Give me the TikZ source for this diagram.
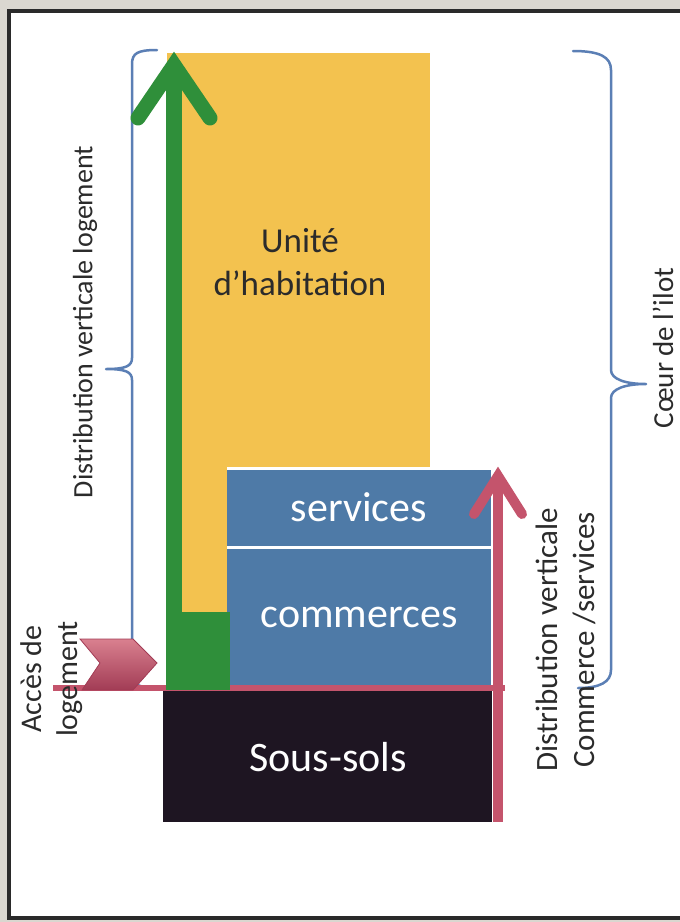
\documentclass[tikz,border=0pt]{standalone}
\usepackage{fontspec}
\setmainfont{Carlito}
\definecolor{yellowc}{HTML}{F3C24F}
\definecolor{greenc}{HTML}{2F8F3A}
\definecolor{bluec}{HTML}{4E7AA7}
\definecolor{blackc}{HTML}{1E1522}
\definecolor{pinkc}{HTML}{C4546C}
\definecolor{pinklight}{HTML}{D9808F}
\definecolor{pinkdark}{HTML}{A23C55}
\definecolor{bracec}{HTML}{5B7FB5}
\definecolor{framec}{HTML}{2A2A2A}
\definecolor{bgc}{HTML}{DAD7D0}
\definecolor{textc}{HTML}{2B2B2B}
\begin{document}
\begin{tikzpicture}[x=1pt,y=-1pt,
  bigwhite/.style={text=white, font=\fontsize{42}{50}\selectfont, inner sep=0pt},
  sidelabel/.style={text=textc, font=\fontsize{29}{36}\selectfont, rotate=90, align=center, inner sep=0pt},
  bracestyle/.style={draw=bracec, line width=2.5pt, line cap=round, line join=round},
  headstyle/.style={line cap=round, line join=miter}]
\useasboundingbox (0,0) rectangle (680,922);
\clip (0,0) rectangle (680,922);
\fill[bgc] (0,0) rectangle (680,922);
\fill[white] (9,11) rectangle (690,918);
\draw[framec, line width=4pt] (700,11) -- (9,11) -- (9,918) -- (700,918);

% blocks
\fill[yellowc] (167,53) rectangle (430,612);
\fill[bluec] (227,467) rectangle (491,688);
\draw[white, line width=3pt] (227,468) -- (491,468);
\draw[white, line width=3pt] (227,547) -- (491,547);
\fill[blackc] (163,690) rectangle (492,822);

% braces
\draw[bracestyle] (157,50) .. controls (138,50) and (132,53) .. (132,64) -- (132,358)
  .. controls (132,366) and (126,369) .. (106,369)
  .. controls (126,369) and (132,372) .. (132,380) -- (132,676)
  .. controls (132,685) and (140,688) .. (160,688);
\draw[bracestyle] (573,51) .. controls (600,51) and (611,57) .. (611,70) -- (611,370)
  .. controls (611,379) and (625,384) .. (646,384)
  .. controls (625,384) and (611,389) .. (611,398) -- (611,670)
  .. controls (611,682) and (600,688) .. (578,688);

% pink floor line
\draw[pinkc, line width=6pt] (53,688) -- (505,688);

% green arrow and block
\fill[greenc] (166,612) rectangle (230,690);
\fill[greenc] (166,67) rectangle (182,690);
\coordinate (gl) at (138,118);
\coordinate (gt) at (174,65);
\coordinate (gr) at (210,118);
\draw[greenc, line width=15pt, headstyle] (gl) -- (gt) -- (gr);

% pink vertical arrow
\fill[pinkc] (493,822) rectangle (503,480);
\coordinate (pl) at (474,514);
\coordinate (pt) at (498,476);
\coordinate (pr) at (522,514);
\draw[pinkc, line width=10pt, headstyle] (pl) -- (pt) -- (pr);

% chevron
\shade[top color=pinklight, bottom color=pinkdark, draw=pinkdark, line width=0.8pt]
  (80,639) -- (133,639) -- (157,663) -- (133,690) -- (82,690) -- (100,663) -- cycle;

% texts
\node (unite) [text=textc, font=\fontsize{35}{43}\selectfont, align=center, inner sep=0pt] at (300,262) {Unité\\d’habitation};
\node (services) [bigwhite] at (359,507) {services};
\node (commerces) [bigwhite] at (359,617) {commerces};
\node (soussols) [bigwhite] at (328,757) {Sous-sols};
\node (distlog) [sidelabel, font=\fontsize{28}{34}\selectfont] at (85,322) {Distribution verticale logement};
\node (acces) [sidelabel, font=\fontsize{30}{36}\selectfont] at (52,679) {Accès de\\logement};
\node (distcom) [sidelabel, font=\fontsize{31}{37}\selectfont] at (566,640) {Distribution verticale\\Commerce /services};
\node (coeur) [sidelabel] at (663,348) {Cœur de l’ilot};
\end{tikzpicture}
\end{document}
